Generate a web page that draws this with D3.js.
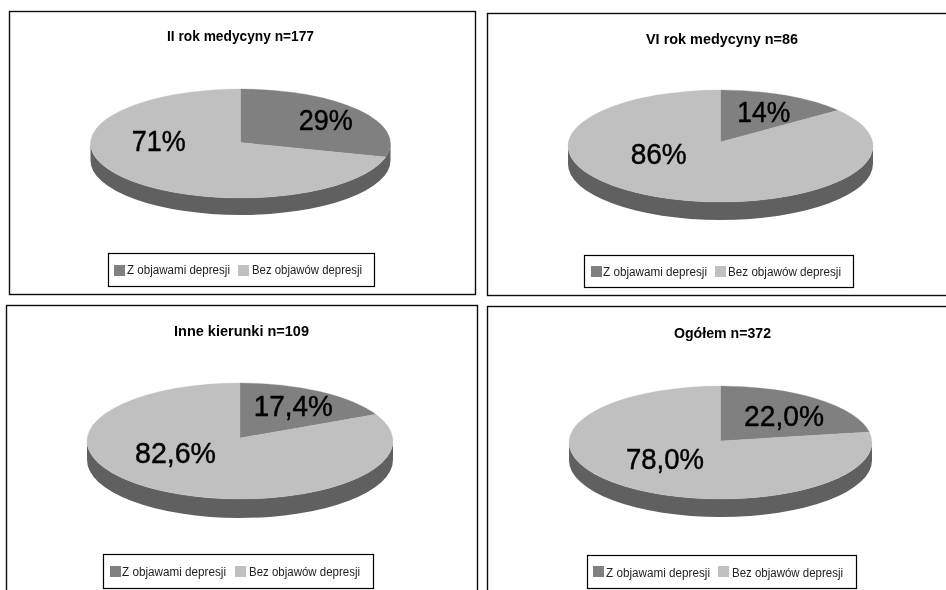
<!DOCTYPE html>
<html><head><meta charset="utf-8">
<script src="https://cdn.jsdelivr.net/npm/d3@7/dist/d3.min.js"></script>
<style>html,body{margin:0;background:#fff}svg{display:block}text{font-family:"Liberation Sans",Arial,sans-serif;fill:#000}</style>
</head><body><svg id="c" width="946" height="590"></svg>
<script>
const titles=["II rok medycyny n=177","VI rok medycyny n=86","Inne kierunki n=109","Ogółem n=372"];
const categories=["Z objawami depresji","Bez objawów depresji"];
const valuesWith=[29,14,17.4,22.0];
const valuesWithout=[71,86,82.6,78.0];
const labelsWith=["29%","14%","17,4%","22,0%"];
const labelsWithout=["71%","86%","82,6%","78,0%"];
const colors=["#808080","#c0c0c0"];
const wallColor="#606060";
// layout, per panel
const frames=[[9,11,475,294],[487,13,960,295],[6,305,477,604],[487,306,960,604]];
const titlePos=[[240.5,41,147],[722,44,152],[241.5,336,135],[722.5,338,97]];
const pies=[ // cx, cy, rx, ry, depth, apexY
  [240.5,143.5,150,54.5,17,142.5],
  [720.5,146,152.5,56,18,142],
  [240,441,153,58,19,438],
  [720.5,442.5,151.5,56.5,18,441]];
const withPos=[[325.7,130,54],[763.7,122,53],[293.3,416,79],[784,426,80]];
const withoutPos=[[158.7,151,54],[658.7,164,56],[175.5,463,81],[665,469,78]];
const legends=[[108,253,374,286],[584,255,853,287],[103,554,373,588],[587,555,856,588]];
// swatch y, text baseline, sw1 x, text1 x, text1 w, sw2 x, text2 x, text2 w
const legendItems=[
  [265,274,114,127,103,238,252,110],
  [266,276,591,603,104,715,728,113],
  [566,576,110,122,104,235,249,111],
  [566,577,593,606,104,718,732,111]];
const svg=d3.select("#c");
svg.append("defs").append("filter").attr("id","soft").attr("x","-5%").attr("y","-5%").attr("width","110%").attr("height","110%")
  .append("feGaussianBlur").attr("stdDeviation",0.45);
const root=svg.append("g").attr("filter","url(#soft)");
root.append("rect").attr("width",946).attr("height",590).attr("fill","#fff");
const pie=d3.pie().sort(null).value(d=>d);
function slicePath(s,[cx,cy,rx,ry,,ay]){
  const px=a=>cx+rx*Math.sin(a), py=a=>cy-ry*Math.cos(a);
  const large=s.endAngle-s.startAngle>Math.PI?1:0;
  return `M${cx},${ay}L${px(s.startAngle)},${py(s.startAngle)}A${rx},${ry} 0 ${large} 1 ${px(s.endAngle)},${py(s.endAngle)}Z`;
}
titles.forEach((t,i)=>{
  const [x0,y0,x1,y1]=frames[i],P=pies[i],[cx,cy,rx,ry,dp]=P;
  root.append("rect").attr("x",x0+.5).attr("y",y0+.5).attr("width",x1-x0).attr("height",y1-y0)
    .attr("fill","#fff").attr("stroke","#111").attr("stroke-width",1.4);
  const tp=titlePos[i];
  root.append("text").attr("x",tp[0]).attr("y",tp[1]).attr("text-anchor","middle")
    .attr("font-size",14).attr("font-weight","bold").attr("textLength",tp[2]).attr("lengthAdjust","spacingAndGlyphs").text(t);
  root.append("path").attr("fill",wallColor)
    .attr("d",`M${cx-rx},${cy}A${rx},${ry} 0 0 0 ${cx+rx},${cy}V${cy+dp}A${rx},${ry} 0 0 1 ${cx-rx},${cy+dp}Z`);
  root.append("g").selectAll("path").data(pie([valuesWith[i],valuesWithout[i]])).join("path")
    .attr("d",d=>slicePath(d,P)).attr("fill",(d,j)=>colors[j]).attr("stroke",(d,j)=>colors[j]).attr("stroke-width",.3);
  [[labelsWith[i],withPos[i]],[labelsWithout[i],withoutPos[i]]].forEach(([l,p])=>{
    root.append("text").attr("x",p[0]).attr("y",p[1]).attr("text-anchor","middle").attr("font-size",29)
      .attr("textLength",p[2]).attr("lengthAdjust","spacingAndGlyphs")
      .attr("stroke","#000").attr("stroke-width",.45).text(l);
  });
  const [lx0,ly0,lx1,ly1]=legends[i],L=legendItems[i];
  root.append("rect").attr("x",lx0+.5).attr("y",ly0+.5).attr("width",lx1-lx0).attr("height",ly1-ly0)
    .attr("fill","#fff").attr("stroke","#000").attr("stroke-width",1.2);
  categories.forEach((c,j)=>{
    const o=2+j*3;
    root.append("rect").attr("x",L[o]).attr("y",L[0]).attr("width",11).attr("height",11).attr("fill",colors[j]);
    root.append("text").attr("x",L[o+1]).attr("y",L[1]).attr("font-size",12.5)
      .attr("textLength",L[o+2]).attr("lengthAdjust","spacingAndGlyphs").style("fill","#222").text(c);
  });
});
</script></body></html>
